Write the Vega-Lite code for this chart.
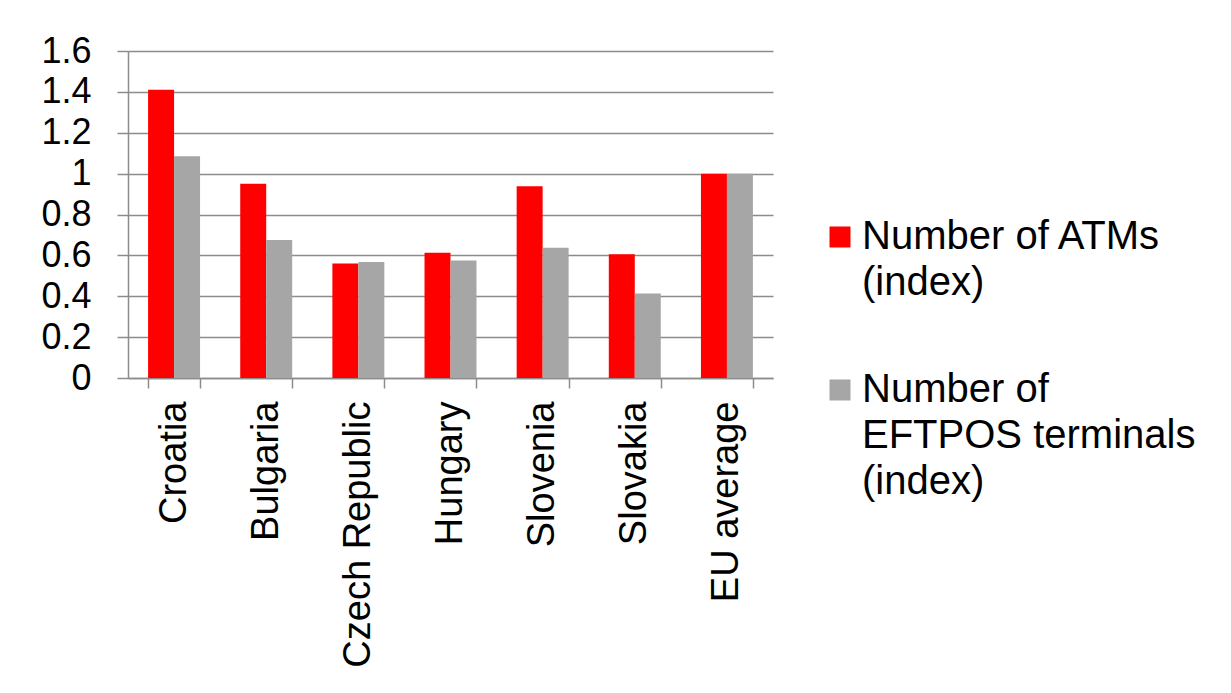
{
  "$schema": "https://vega.github.io/schema/vega-lite/v6.json",
  "width": 645,
  "height": 327,
  "autosize": {"type": "none"},
  "padding": {"left": 128, "top": 51, "right": 458, "bottom": 315},
  "background": "white",
  "config": {
    "font": "Liberation Sans",
    "view": {"stroke": null},
    "style": {"guide-label": {"lineHeight": 46}}
  },
  "data": {
    "values": [
      {"country": "Croatia", "series": "Number of ATMs (index)", "value": 1.41},
      {"country": "Croatia", "series": "Number of EFTPOS terminals (index)", "value": 1.085},
      {"country": "Bulgaria", "series": "Number of ATMs (index)", "value": 0.95},
      {"country": "Bulgaria", "series": "Number of EFTPOS terminals (index)", "value": 0.675},
      {"country": "Czech Republic", "series": "Number of ATMs (index)", "value": 0.56},
      {"country": "Czech Republic", "series": "Number of EFTPOS terminals (index)", "value": 0.568},
      {"country": "Hungary", "series": "Number of ATMs (index)", "value": 0.613},
      {"country": "Hungary", "series": "Number of EFTPOS terminals (index)", "value": 0.575},
      {"country": "Slovenia", "series": "Number of ATMs (index)", "value": 0.938},
      {"country": "Slovenia", "series": "Number of EFTPOS terminals (index)", "value": 0.637},
      {"country": "Slovakia", "series": "Number of ATMs (index)", "value": 0.606},
      {"country": "Slovakia", "series": "Number of EFTPOS terminals (index)", "value": 0.414},
      {"country": "EU average", "series": "Number of ATMs (index)", "value": 1.0},
      {"country": "EU average", "series": "Number of EFTPOS terminals (index)", "value": 1.0}
    ]
  },
  "mark": {"type": "bar"},
  "encoding": {
    "x": {
      "field": "country",
      "type": "nominal",
      "sort": null,
      "scale": {"paddingInner": 0.436, "paddingOuter": 0.218},
      "axis": {
        "title": null,
        "labelAngle": 270,
        "labelAlign": "right",
        "labelBaseline": "middle",
        "labelFontSize": 38,
        "labelColor": "black",
        "labelPadding": 13,
        "labelLimit": 400,
        "tickBand": "extent",
        "tickSize": 10,
        "tickColor": "#8c8c8c",
        "tickWidth": 1.5,
        "domainColor": "#8c8c8c",
        "domainWidth": 1.5
      }
    },
    "xOffset": {
      "field": "series",
      "type": "nominal",
      "sort": ["Number of ATMs (index)", "Number of EFTPOS terminals (index)"],
      "scale": {"paddingInner": 0, "paddingOuter": 0}
    },
    "y": {
      "field": "value",
      "type": "quantitative",
      "scale": {"domain": [0, 1.6], "nice": false},
      "axis": {
        "title": null,
        "values": [0, 0.2, 0.4, 0.6, 0.8, 1, 1.2, 1.4, 1.6],
        "format": ".1~f",
        "labelFontSize": 36,
        "labelColor": "black",
        "labelPadding": 26,
        "tickSize": 11,
        "tickColor": "#8c8c8c",
        "tickWidth": 1.5,
        "domainColor": "#8c8c8c",
        "domainWidth": 1.5,
        "grid": true,
        "gridColor": "#8c8c8c",
        "gridWidth": 1.5
      }
    },
    "color": {
      "field": "series",
      "type": "nominal",
      "scale": {
        "domain": ["Number of ATMs (index)", "Number of EFTPOS terminals (index)"],
        "range": ["#ff0000", "#a6a6a6"]
      },
      "legend": {
        "title": null,
        "orient": "none",
        "legendX": 692,
        "legendY": 166,
        "padding": 0,
        "symbolType": "square",
        "symbolSize": 441,
        "symbolStrokeWidth": 0,
        "symbolOpacity": 1,
        "labelFontSize": 40,
        "labelColor": "black",
        "labelLimit": 400,
        "labelOffset": 2,
        "rowPadding": 67,
        "labelExpr": "datum.label == 'Number of ATMs (index)' ? ['Number of ATMs', '(index)'] : ['Number of', 'EFTPOS terminals', '(index)']"
      }
    }
  }
}
